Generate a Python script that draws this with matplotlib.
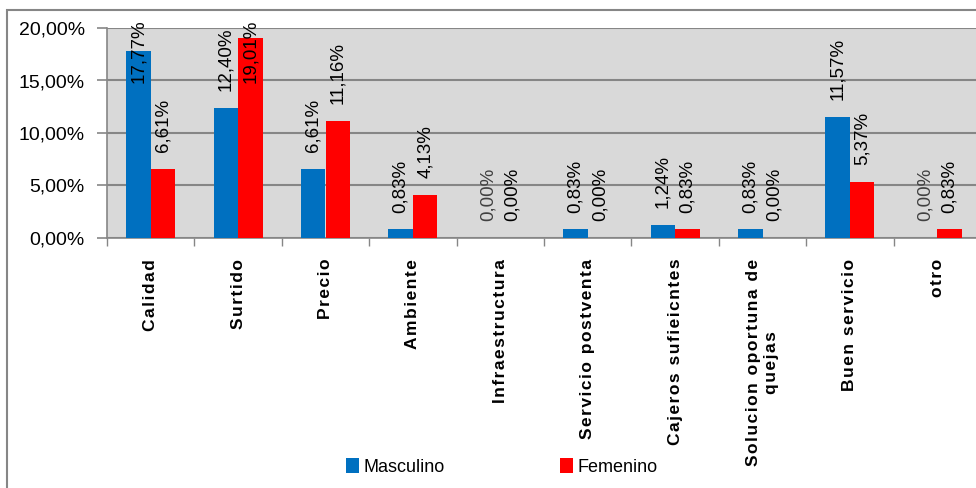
import matplotlib.pyplot as plt
from matplotlib.patches import Rectangle
import numpy as np

categorias = ["Calidad", "Surtido", "Precio", "Ambiente", "Infraestructura",
              "Servicio postventa", "Cajeros sufieicntes",
              "Solucion oportuna de\nquejas", "Buen servicio", "otro"]
masculino = [17.77, 12.40, 6.61, 0.83, 0.00, 0.83, 1.24, 0.83, 11.57, 0.00]
femenino = [6.61, 19.01, 11.16, 4.13, 0.00, 0.00, 0.83, 0.00, 5.37, 0.83]

AZUL = "#0070C0"
ROJO = "#FF0000"
GRIS = "#868686"
YMAX = 20.0
FUENTE = ["Liberation Sans", "DejaVu Sans"]


def pct(v):
    return ("%.2f%%" % v).replace(".", ",")


def espaciado(txt):
    # separa las letras con un espacio fino
    return "\n".join("\u200a".join(linea) for linea in txt.split("\n"))


def etiquetas(ax, xs, vals, color_cero="black"):
    # etiqueta rotada sobre cada barra; si no cabe se pega al borde superior
    for x, v in zip(xs, vals):
        color = color_cero if v == 0 else "black"
        if v + 1.7 > 14.3:
            ax.text(x, YMAX + 0.8, pct(v), rotation=90, ha="center", va="top",
                    fontsize=13.5, color=color, family=FUENTE, clip_on=False)
        else:
            ax.annotate(pct(v), (x, v), xytext=(0, 12), textcoords="offset points",
                        rotation=90, ha="center", va="bottom",
                        fontsize=13.5, color=color, family=FUENTE)


fig = plt.figure(figsize=(9.76, 4.88), dpi=100)
fig.patches.append(Rectangle((7 / 976, -0.1), 1.1, 1 - 10 / 488 + 0.1,
                             transform=fig.transFigure, fill=False,
                             edgecolor=GRIS, linewidth=1.5))

ax = fig.add_axes([107 / 976, 1 - 238 / 488, 874 / 976, 210 / 488])
ax.set_facecolor("#D9D9D9")

x = np.arange(len(categorias))
w = 0.28
b1 = ax.bar(x - w / 2, masculino, w, color=AZUL, label="Masculino", zorder=3)
b2 = ax.bar(x + w / 2, femenino, w, color=ROJO, label="Femenino", zorder=3)

etiquetas(ax, x - w / 2, masculino, color_cero="#404040")
etiquetas(ax, x + w / 2, femenino)

ax.set_xlim(-0.5, len(categorias) - 0.5)
ax.set_ylim(0, YMAX)
ax.set_yticks([0, 5, 10, 15, 20])
ax.set_yticklabels([pct(v) for v in [0, 5, 10, 15, 20]],
                   fontsize=14, family=FUENTE)
ax.yaxis.grid(True, color=GRIS, linewidth=1.5, zorder=0)
ax.set_axisbelow(True)

ax.set_xticks(x)
ax.set_xticklabels([espaciado(c) for c in categorias], rotation=90, va="top",
                   ha="center", fontsize=12.5, fontweight="bold", family=FUENTE,
                   multialignment="center")
ax.set_xticks(np.arange(len(categorias) + 1) - 0.5, minor=True)
ax.tick_params(axis="x", which="major", length=0, pad=15)
ax.tick_params(axis="x", which="minor", length=6, color=GRIS, width=1)
ax.tick_params(axis="y", length=7, color=GRIS, width=1.2, pad=9)

for s in ["top", "right"]:
    ax.spines[s].set_visible(False)
for s in ["left", "bottom"]:
    ax.spines[s].set_color(GRIS)
    ax.spines[s].set_linewidth(1.2)

fig.legend(handles=[b1, b2], labels=["Masculino", "Femenino"],
           loc="center", bbox_to_anchor=(502 / 976, 1 - 467 / 488), ncol=2,
           frameon=False, handlelength=0.7, handleheight=0.9, handletextpad=0.25,
           columnspacing=6.4, prop={"family": FUENTE, "size": 13})

fig.savefig("out.png", dpi=100)
